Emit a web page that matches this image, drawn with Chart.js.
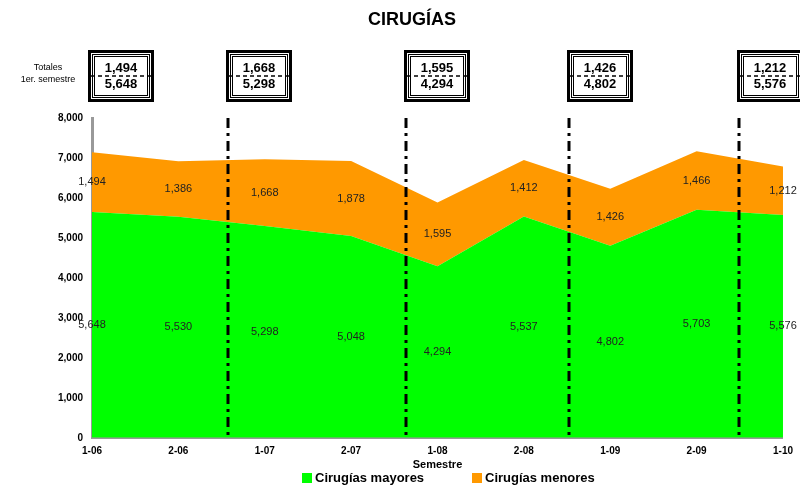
<!DOCTYPE html>
<html>
<head>
<meta charset="utf-8">
<title>Cirugías</title>
<script src="https://cdn.jsdelivr.net/npm/chart.js@4"></script>
<style>
  html, body { margin: 0; padding: 0; background: #fff; }
  #wrap { width: 800px; height: 487px; }
</style>
</head>
<body>
<div id="wrap"><canvas id="cirugias-chart"></canvas></div>
<script>
/*** datos ***/
const semestres = ['1-06', '2-06', '1-07', '2-07', '1-08', '2-08', '1-09', '2-09', '1-10'];
const mayores = [5648, 5530, 5298, 5048, 4294, 5537, 4802, 5703, 5576];
const menores = [1494, 1386, 1668, 1878, 1595, 1412, 1426, 1466, 1212];
const yTicks = [0, 1000, 2000, 3000, 4000, 5000, 6000, 7000, 8000];
const primerSemestre = [0, 2, 4, 6, 8];

// separadores entre años (posición en índice de categoría)
const separadores = [1.58, 3.64, 5.52, 7.49];

const fmt = v => v.toLocaleString('en-US');
const FONT = '"Liberation Sans", Arial, sans-serif';

/*** plugin: título, cuadros de totales, separadores, etiquetas y leyenda ***/
const extras = {
    id: 'extras',
    afterDatasetsDraw(chart) {
        const ctx = chart.ctx;
        const x = chart.scales.x, y = chart.scales.y;
        const area = chart.chartArea;

        // etiquetas de valores
        ctx.save();
        ctx.font = '11px ' + FONT;
        ctx.fillStyle = '#222';
        ctx.textAlign = 'center';
        ctx.textBaseline = 'middle';
        semestres.forEach((s, i) => {
            const px = x.getPixelForValue(i);
            ctx.fillText(fmt(mayores[i]), px, y.getPixelForValue(mayores[i] / 2));
            ctx.fillText(fmt(menores[i]), px, y.getPixelForValue(mayores[i] + menores[i] / 2));
        });
        ctx.restore();

        // líneas separadoras
        ctx.save();
        ctx.strokeStyle = '#000';
        ctx.lineWidth = 3;
        ctx.setLineDash([10, 5, 3, 5]);
        separadores.forEach(p => {
            const px = Math.round(x.getPixelForValue(p));
            ctx.beginPath();
            ctx.moveTo(px, area.top);
            ctx.lineTo(px, area.bottom);
            ctx.stroke();
        });
        ctx.restore();
    },
    afterDraw(chart) {
        const ctx = chart.ctx;
        const x = chart.scales.x;
        ctx.save();
        ctx.fillStyle = '#000';
        ctx.textAlign = 'center';
        ctx.textBaseline = 'middle';
        ctx.font = 'bold 18px ' + FONT;
        ctx.fillText('CIRUGÍAS', 412, 20);

        ctx.font = '9px ' + FONT;
        ctx.fillText('Totales', 48, 68);
        ctx.fillText('1er. semestre', 48, 80);

        // cuadros de totales del primer semestre
        primerSemestre.forEach((idx, k) => {
            const left = k === 0 ? chart.chartArea.left - 4 : Math.round(x.getPixelForValue(separadores[k - 1])) - 2;
            const top = 50, w = 66, h = 52;
            ctx.setLineDash([]);
            ctx.strokeStyle = '#000';
            ctx.lineWidth = 3;
            ctx.strokeRect(left + 1.5, top + 1.5, w - 3, h - 3);
            ctx.lineWidth = 1;
            ctx.strokeRect(left + 4.5, top + 4.5, w - 9, h - 9);
            ctx.strokeRect(left + 6.5, top + 6.5, w - 13, h - 13);

            ctx.lineWidth = 1.5;
            ctx.setLineDash([4, 3]);
            ctx.beginPath();
            ctx.moveTo(left + 3, top + h / 2);
            ctx.lineTo(left + w - 3, top + h / 2);
            ctx.stroke();

            ctx.font = 'bold 13px ' + FONT;
            ctx.fillText(fmt(menores[idx]), left + w / 2, top + 18);
            ctx.fillText(fmt(mayores[idx]), left + w / 2, top + 34);
        });

        // leyenda
        ctx.setLineDash([]);
        ctx.textAlign = 'left';
        ctx.font = 'bold 13px ' + FONT;
        const items = [[302, chart.data.datasets[0]], [472, chart.data.datasets[1]]];
        items.forEach(([lx, ds]) => {
            ctx.fillStyle = ds.backgroundColor;
            ctx.fillRect(lx, 473, 10, 10);
            ctx.fillStyle = '#000';
            ctx.fillText(ds.label, lx + 13, 478.5);
        });
        ctx.restore();
    }
};

const ctx = document.getElementById('cirugias-chart').getContext('2d');
const chart = new Chart(ctx, {
    type: 'line',
    data: {
        labels: semestres,
        datasets: [
            {
                label: 'Cirugías mayores',
                data: mayores,
                backgroundColor: '#00FF00',
                borderWidth: 0,
                pointRadius: 0,
                fill: 'origin',
                tension: 0
            },
            {
                label: 'Cirugías menores',
                data: menores,
                backgroundColor: '#FF9900',
                borderWidth: 0,
                pointRadius: 0,
                fill: '-1',
                tension: 0
            }
        ]
    },
    options: {
        responsive: true,
        maintainAspectRatio: false,
        animation: false,
        layout: {
            padding: { top: 118, right: 13, left: 0, bottom: 15 }
        },
        plugins: {
            legend: { display: false },
            tooltip: { enabled: false },
            title: { display: false }
        },
        scales: {
            x: {
                offset: false,
                grid: { display: false, drawTicks: false },
                border: { color: '#999', width: 2 },
                ticks: {
                    color: '#000',
                    padding: 7,
                    maxRotation: 0,
                    font: { family: FONT, size: 10, weight: 'bold' }
                },
                title: {
                    display: true,
                    text: 'Semestre',
                    color: '#000',
                    padding: { top: -5, bottom: 0 },
                    font: { family: FONT, size: 11, weight: 'bold' }
                }
            },
            y: {
                stacked: true,
                min: 0,
                max: 8000,
                afterBuildTicks: axis => { axis.ticks = yTicks.map(v => ({ value: v })); },
                afterFit: axis => { axis.width = 92; },
                grid: { display: false, drawTicks: false },
                border: { color: '#999', width: 3 },
                ticks: {
                    color: '#000',
                    padding: 9,
                    font: { family: FONT, size: 10, weight: 'bold' },
                    callback: v => fmt(v)
                }
            }
        }
    },
    plugins: [extras]
});
</script>
</body>
</html>
